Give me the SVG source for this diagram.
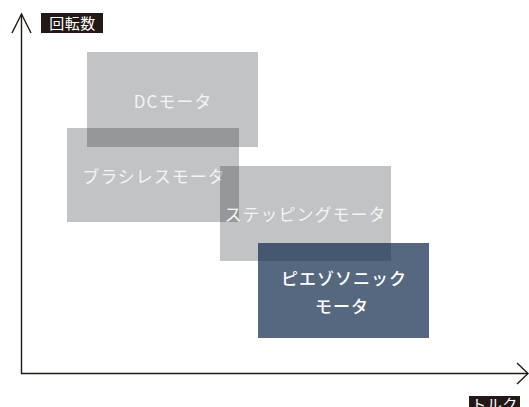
<svg xmlns="http://www.w3.org/2000/svg" width="529" height="407" viewBox="0 0 529 407">
<style>
.box{fill:#1e2126;fill-opacity:0.27}
.piezo{fill:#17304f;fill-opacity:0.73}
.t{font-family:"Noto Sans CJK JP","Noto Sans",sans-serif;font-size:17px;fill:#f4f4f4;text-anchor:middle;dominant-baseline:central;letter-spacing:1px;font-weight:400}
.tb{font-weight:500;fill:#ffffff}
.axis{stroke:#231815;stroke-width:1.4;fill:none}
.lab{fill:#231815}
.lt{font-family:"Noto Sans CJK JP","Noto Sans",sans-serif;font-size:15px;fill:#ffffff;text-anchor:middle;letter-spacing:0.5px}
</style>
<rect width="529" height="407" fill="#ffffff"/>
<g id="connectors">
<polyline class="axis" points="21.5,14 21.5,373.5 528,373.5"/>
<polyline class="axis" points="12,33 21.5,14 31,33"/>
<polyline class="axis" points="517,363 528,373.5 517,384"/>
</g>
<g id="axis-y-label">
<rect class="lab" x="41" y="13" width="62" height="20"/>
<text class="lt" x="72.5" y="28.5">回転数</text>
</g>
<g id="axis-x-label">
<rect class="lab" x="469" y="396" width="51" height="20"/>
<text class="lt" x="494.5" y="410">トルク</text>
</g>
<g id="node-dc">
<rect class="box" x="87" y="52" width="171" height="95"/>
<text class="t" x="173" y="100">DCモータ</text>
</g>
<g id="node-brushless">
<rect class="box" x="67" y="128" width="172" height="94"/>
<text class="t" x="154" y="175">ブラシレスモータ</text>
</g>
<g id="node-stepping">
<rect class="box" x="220" y="166" width="171" height="95"/>
<text class="t" x="305.5" y="213">ステッピングモータ</text>
</g>
<g id="node-piezo">
<rect class="piezo" x="258" y="243" width="171" height="95"/>
<text class="t tb" x="344" y="277">ピエゾソニック</text>
<text class="t tb" x="342" y="305">モータ</text>
</g>
</svg>
